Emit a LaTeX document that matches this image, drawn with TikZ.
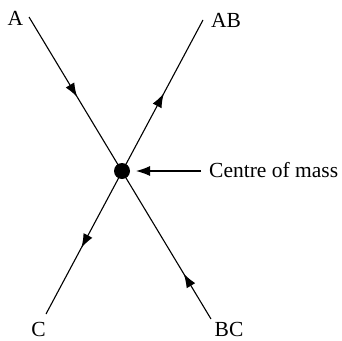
\documentclass[tikz,border=0pt]{standalone}
\usepackage{fontspec}
\setmainfont{Liberation Serif}
\usetikzlibrary{arrows.meta,decorations.markings}
\begin{document}
\begin{tikzpicture}[x=1pt,y=-1pt,
  line/.style={line width=1.1pt,black},
  head/.tip={Latex[length=14pt,width=10pt]},
  lbl/.style={inner sep=0pt,font=\fontsize{21.5}{24}\selectfont},
  fwd/.style={postaction={decorate},decoration={markings,mark=at position #1 with {\arrow[line width=1.1pt]{head}}}},
  bwd/.style={postaction={decorate},decoration={markings,mark=at position #1 with {\arrowreversed[line width=1.1pt]{head}}}}]
\useasboundingbox (0,0) rectangle (342,340);
\coordinate (a) at (29,17);
\coordinate (bc) at (211,319);
\coordinate (ab) at (203,20);
\coordinate (c) at (46,314);
\coordinate (ce) at (201,171);
\coordinate (cetip) at (136,171);
\node[lbl] (la) at (15.5,18.5) {A};
\node[lbl] (lab) at (226,20.5) {AB};
\node[lbl] (lc) at (38.5,329) {C};
\node[lbl] (lbc) at (229,329) {BC};
\node[lbl,anchor=west] (lcm) at (209,170.5) {Centre of mass};
\draw[line] (a) -- (bc);
\path[fwd=0.265] (a) -- (bc);
\path[bwd=0.85] (a) -- (bc);
\draw[line] (ab) -- (c);
\path[bwd=0.25] (ab) -- (c);
\path[fwd=0.775] (ab) -- (c);
\node[circle,fill=black,minimum size=16pt,inner sep=0pt] (m) at (122,171) {};
\draw[line,-head] (ce) -- (cetip);
\end{tikzpicture}
\end{document}
